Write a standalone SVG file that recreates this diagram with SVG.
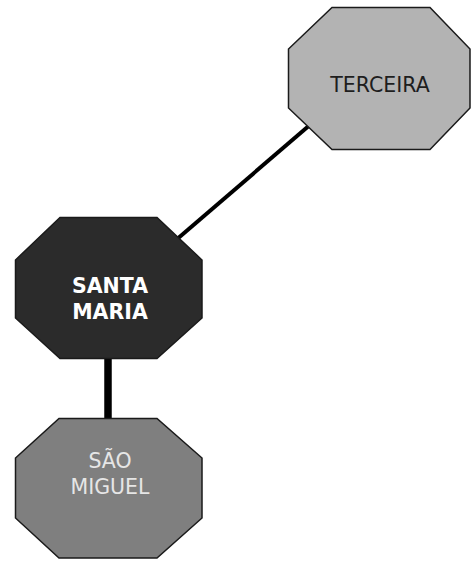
<svg xmlns="http://www.w3.org/2000/svg" width="471" height="561" viewBox="0 0 471 561">
<style>
.oct{stroke:#1a1a1a;stroke-width:1.5;stroke-linejoin:miter}
.lbl{font-family:"DejaVu Sans",Verdana,sans-serif;font-size:20.5px;text-anchor:middle}
.edge{stroke:#000;fill:none}
</style>
<rect width="471" height="561" fill="#fff"/>
<g id="connectors">
<line class="edge" x1="318" y1="118" x2="169" y2="246" stroke-width="4"/>
<line class="edge" x1="108" y1="350" x2="108" y2="425" stroke-width="7.5"/>
</g>
<g id="terceira">
<polygon class="oct" fill="#b3b3b3" points="332,7.5 430,7.5 470,49 470,108 430,149.5 332,149.5 288.5,108 288.5,49"/>
<text class="lbl" x="380" y="92" fill="#1e1e1e">TERCEIRA</text>
</g>
<g id="santa-maria">
<polygon class="oct" fill="#2b2b2b" points="60,217.5 157,217.5 202,260 202,318 157,358.5 60,358.5 15.5,318 15.5,260"/>
<text class="lbl" x="110" y="293" fill="#fff" font-weight="bold">SANTA</text>
<text class="lbl" x="110" y="319" fill="#fff" font-weight="bold">MARIA</text>
</g>
<g id="sao-miguel">
<polygon class="oct" fill="#7f7f7f" points="59,418.5 157,418.5 202,458 202,518 157,558 59,558 15.5,518 15.5,458"/>
<text class="lbl" x="110" y="468" fill="#e6e6e6">SÃO</text>
<text class="lbl" x="110" y="494" fill="#e6e6e6">MIGUEL</text>
</g>
</svg>
